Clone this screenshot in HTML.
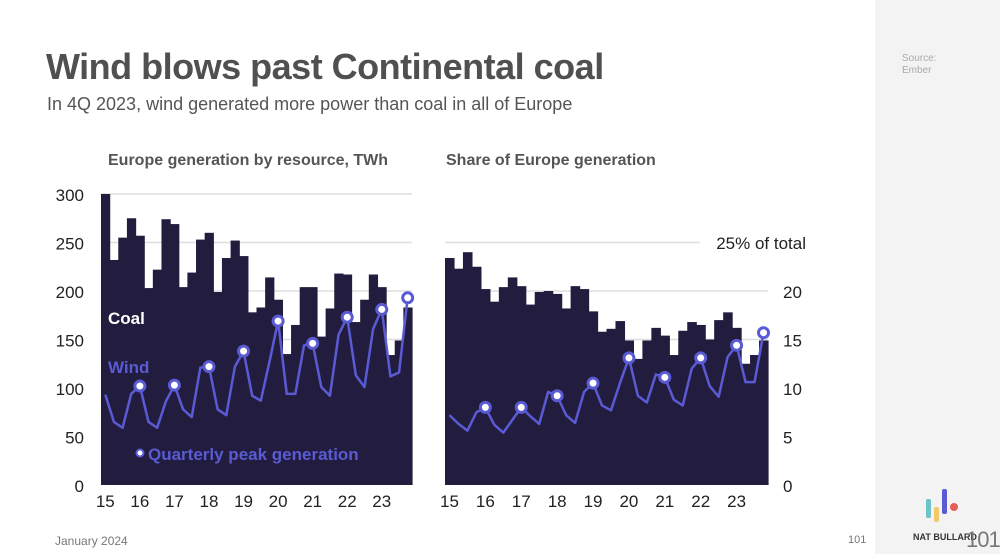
<!DOCTYPE html>
<html><head><meta charset="utf-8"><style>
body{margin:0;width:1000px;height:554px;overflow:hidden;background:#fff;font-family:"Liberation Sans",sans-serif;position:relative}
.t{position:absolute;white-space:nowrap}
</style></head><body>
<div style="position:absolute;left:875px;top:0;width:125px;height:554px;background:#f3f3f3"></div>
<div class="t" style="left:46px;top:46px;font-size:36px;font-weight:bold;color:#505050;letter-spacing:-0.5px">Wind blows past Continental coal</div>
<div class="t" style="left:47px;top:94px;font-size:18px;color:#555">In 4Q 2023, wind generated more power than coal in all of Europe</div>
<div class="t" style="left:902px;top:53px;font-size:10px;color:#aaa;line-height:12px">Source:<br>Ember</div>
<div class="t" style="left:55px;top:534px;font-size:12px;color:#777">January 2024</div>
<div class="t" style="left:848px;top:534px;font-size:11px;color:#777">101</div>
<div class="t" style="left:913px;top:532px;font-size:9px;font-weight:bold;color:#333">NAT BULLARD</div>
<div class="t" style="left:966px;top:527px;font-size:22px;color:#777;letter-spacing:-1px">101</div>
<svg width="1000" height="554" style="position:absolute;left:0;top:0">
<g>
<rect x="926" y="499" width="5" height="19" rx="2" fill="#6cc4c8"/>
<rect x="934" y="507" width="5" height="15" rx="2" fill="#f2c86a"/>
<rect x="942" y="489" width="5" height="25" rx="2" fill="#5a5bd4"/>
<circle cx="954" cy="507" r="4" fill="#e85b5b"/>
</g>
<g id="left"></g><g id="right"></g>
</svg>
<script>
const years=["15","16","17","18","19","20","21","22","23"];
const coalTWh=[300,232,255,275,257,203,222,274,269,204,219,253,260,199,234,252,236,178,183,214,191,135,165,204,204,153,182,218,217,168,191,217,204,134,149,183];
const windTWh=[93,65,59,94,102,65,59,86,103,78,70,121,122,78,72,122,138,92,87,127,169,94,94,144,146,101,92,155,173,113,101,161,181,112,116,193];
const coalShare=[23.4,22.3,24.0,22.5,20.2,18.9,20.4,21.4,20.5,18.6,19.9,20.0,19.7,18.2,20.5,20.2,17.9,15.8,16.1,16.9,14.9,13.0,14.9,16.2,15.4,13.4,15.9,16.8,16.5,15.0,17.0,17.8,16.2,12.5,13.4,14.9];
const windShare=[7.2,6.3,5.6,7.5,8.0,6.2,5.4,6.7,8.0,7.1,6.3,9.6,9.2,7.2,6.4,9.6,10.5,8.2,7.7,10.5,13.1,9.2,8.5,11.4,11.1,8.8,8.2,12.0,13.1,10.2,9.1,13.2,14.4,10.6,10.6,15.7];
const leftTicks=[0,50,100,150,200,250,300];
const rightTicks=[0,5,10,15,20];
const peakIdx=[4,8,12,16,20,24,28,32,35];
const NS="http://www.w3.org/2000/svg";
function mk(p,tag,a){const e=document.createElementNS(NS,tag);for(const k in a)e.setAttribute(k,a[k]);p.appendChild(e);return e;}
function draw(gid,x0,x1,y0,pxPer,coal,wind,ticks,side){
  const g=document.getElementById(gid);
  const n=coal.length,bw=(x1-x0)/n;
  const X=i=>x0+bw*i, Y=v=>y0-v*pxPer;
  ticks.forEach(t=>{
    if(t>0){const gl=mk(g,'line',{x1:x0,x2:x1,y1:Y(t),y2:Y(t),stroke:'#ddd','stroke-width':1.5});
    
    }
    const tx=mk(g,'text',{x:side==='l'?84:783,y:Y(t)+7,'font-size':17,fill:'#222','text-anchor':side==='l'?'end':'start','font-family':'Liberation Sans'});
    tx.textContent=t;
    
    
  });
  coal.forEach((v,i)=>{const r=mk(g,'rect',{x:X(i),y:Y(v),width:bw+0.6,height:y0-Y(v),fill:'#221d3e'});
    
    });
  const pts=wind.map((v,i)=>(X(i)+bw/2)+','+Y(v)).join(' ');
  const pl=mk(g,'polyline',{points:pts,fill:'none',stroke:'#5a5bd4','stroke-width':2.5,'stroke-linejoin':'round'});
  
  
  peakIdx.forEach(i=>{const c=mk(g,'circle',{cx:X(i)+bw/2,cy:Y(wind[i]),r:5,fill:'#fff',stroke:'#5a5bd4','stroke-width':3});
    
    });
  years.forEach((y,k)=>{const t=mk(g,'text',{x:X(k*4)+bw/2,y:y0+22,'font-size':17,fill:'#222','text-anchor':'middle','font-family':'Liberation Sans'});
    t.textContent=y;
    
    });
}
draw('left',101,412,485,0.97,coalTWh,windTWh,leftTicks,'l');
draw('right',445,768,485,9.7,coalShare,windShare,rightTicks,'r');
const R=document.getElementById('right');
const gl25=mk(R,'line',{x1:445,x2:700,y1:242.5,y2:242.5,stroke:'#ddd','stroke-width':1.5});


const t25=mk(R,'text',{x:806,y:249,'font-size':17,fill:'#222','text-anchor':'end','font-family':'Liberation Sans'});
t25.textContent='25% of total';


const L=document.getElementById('left');
function lab(p,x,y,txt,fill,size,name){const t=mk(p,'text',{x:x,y:y,'font-size':size,'font-weight':'bold',fill:fill,'font-family':'Liberation Sans'});t.textContent=txt;

return t;}
lab(L,108,324,'Coal','#fff',17,'coal-label');
lab(L,108,373,'Wind','#5a5bd4',17,'wind-label');
const ld=mk(L,'circle',{cx:140,cy:453,r:3.5,fill:'#fff',stroke:'#5a5bd4','stroke-width':2});


lab(L,148,460,'Quarterly peak generation','#5a5bd4',17,'legend-peak-label');
lab(L,108,165,'Europe generation by resource, TWh','#555',16,'left-chart-title');
lab(L,446,165,'Share of Europe generation','#555',16,'right-chart-title');
</script>
</body></html>
